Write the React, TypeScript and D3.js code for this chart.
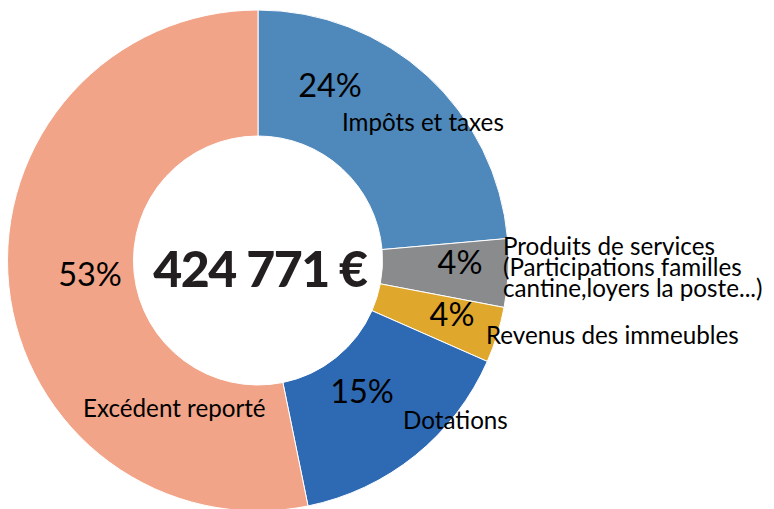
import React from "react";
import * as d3 from "d3";

const categories = [
  "Impôts et taxes",
  "Produits de services",
  "Revenus des immeubles",
  "Dotations",
  "Excédent reporté",
];
const values = [23.6, 4.4, 3.6, 15.2, 53.2];
const colors = ["#4F88BB", "#898B8D", "#E0A72D", "#2E6AB4", "#F1A488"];
const categoryLines = [
  ["Impôts et taxes"],
  ["Produits de services", "(Participations familles", "cantine,loyers la poste...)"],
  ["Revenus des immeubles"],
  ["Dotations"],
  ["Excédent reporté"],
];
const totalLabel = "424 771 €";

// label layout (position of percent text and category text, page coordinates)
const pctPos = [
  [330, 97],
  [460, 274],
  [452, 326],
  [362, 403],
  [90, 286],
];
const catPos = [
  [342, 131],
  [503, 255],
  [486, 344],
  [403, 429],
  [83, 417],
];

const W = 774;
const H = 509;
const cx = 258;
const cy = 260.5;
const rOuter = 250.5;
const rInner = 124.5;

export default function App() {
  const pie = d3.pie<number>().sort(null).value((d) => d).startAngle(0).endAngle(2 * Math.PI);
  const arcs = pie(values);
  const arc = d3.arc<d3.PieArcDatum<number>>().innerRadius(rInner).outerRadius(rOuter);
  const total = d3.sum(values);
  const font = "Lato, 'Open Sans', sans-serif";

  return (
    <svg
      width={W}
      height={H}
      style={{ position: "absolute", left: 0, top: 0, background: "#fff" }}
      fontFamily={font}
    >
      <g transform={`translate(${cx},${cy})`}>
        {arcs.map((a, i) => (
          <path key={categories[i]} d={arc(a) || ""} fill={colors[i]} stroke="#fff" strokeWidth={1} />
        ))}
      </g>
      {arcs.map((a, i) => (
        <text
          key={"p" + i}
          x={pctPos[i][0]}
          y={pctPos[i][1]}
          textAnchor="middle"
          fontSize={32.5}
          fill="#000"
        >
          {Math.round((values[i] / total) * 100) + "%"}
        </text>
      ))}
      {categoryLines.map((lines, i) => (
        <text key={"c" + i} x={catPos[i][0]} y={catPos[i][1]} fontSize={24.2} fill="#000">
          {lines.map((l, j) => (
            <tspan key={j} x={catPos[i][0]} dy={j === 0 ? 0 : 21}>
              {l}
            </tspan>
          ))}
        </text>
      ))}
      <text
        x={cx + 2}
        y={287}
        textAnchor="middle"
        fontSize={50}
        fontWeight={900}
        fill="#231F20"
        letterSpacing={-1.5}
      >
        {totalLabel}
      </text>
    </svg>
  );
}
